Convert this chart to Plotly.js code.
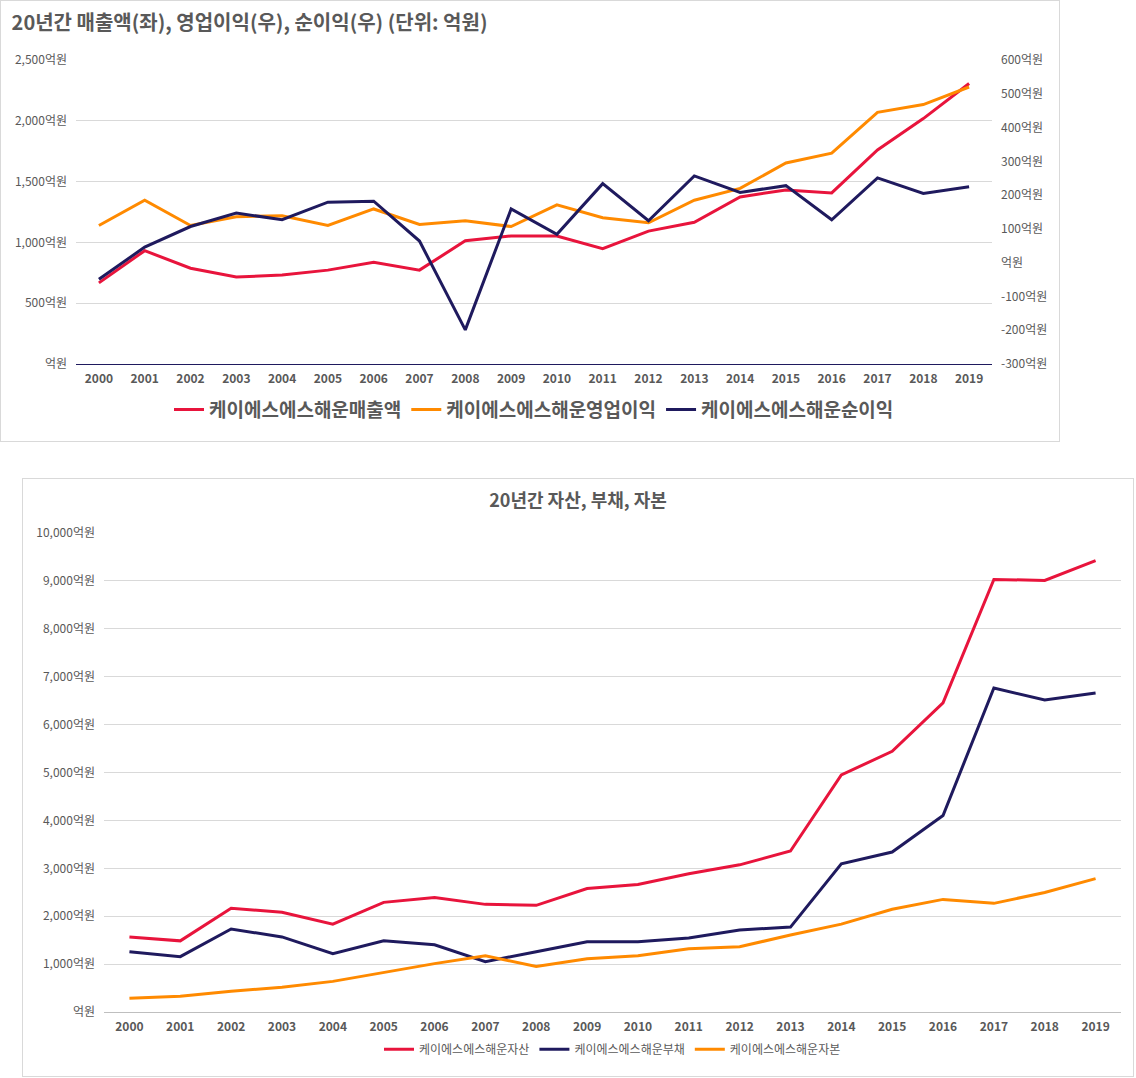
<html><head><meta charset="utf-8">
<script src="https://cdn.plot.ly/plotly-3.0.1.min.js"></script>
<style>body{margin:0;background:#fff;font-family:'Noto Sans CJK KR',sans-serif}
#c1{position:absolute;left:0;top:0;width:1060px;height:442px;border:1px solid #d9d9d9;box-sizing:border-box}
#c2{position:absolute;left:22px;top:478px;width:1112px;height:599px;border:1px solid #d9d9d9;box-sizing:border-box}</style></head>
<body><div id="c1"></div><div id="c2"></div>
<script>
const years=['2000','2001','2002','2003','2004','2005','2006','2007','2008','2009','2010','2011','2012','2013','2014','2015','2016','2017','2018','2019'];
const revenue=[667,932,788,715,731,772,836,772,1013,1053,1053,948,1093,1165,1374,1431,1407,1760,2018,2307];
const opProfit=[110,185,110,136,139,110,159,113,124,107,171,133,118,185,220,295,324,445,468,520];
const netProfit=[-49,46,107,147,127,179,182,64,-199,159,84,234,124,257,208,228,127,251,205,225];
const assets=[1567,1485,2165,2082,1835,2289,2392,2247,2227,2577,2660,2887,3072,3361,4948,5443,6454,9031,9010,9423];
const liabilities=[1258,1155,1732,1567,1216,1485,1402,1052,1258,1464,1464,1546,1711,1773,3093,3340,4103,6763,6515,6660];
const capital=[289,330,433,515,639,825,1010,1175,948,1113,1175,1320,1361,1608,1835,2144,2351,2268,2495,2784];
const names1=['케이에스에스해운매출액','케이에스에스해운영업이익','케이에스에스해운순이익'];
const names2=['케이에스에스해운자산','케이에스에스해운부채','케이에스에스해운자본'];
const RED='#e8143c',ORG='#ff8a00',NAVY='#1f1a5e',F="'Noto Sans CJK KR', sans-serif";
const fmt=v=>(v===0?'':v.toLocaleString('en-US'))+'억원';
const lv=[0,500,1000,1500,2000,2500], rv=[-300,-200,-100,0,100,200,300,400,500,600];
const tf={family:F,size:12,color:'#595959'};
const xf={family:F,size:12,color:'#595959',weight:'bold'};
Plotly.newPlot('c1',[
{x:years,y:revenue,name:names1[0],type:'scatter',mode:'lines',line:{color:RED,width:3}},
{x:years,y:opProfit,name:names1[1],yaxis:'y2',type:'scatter',mode:'lines',line:{color:ORG,width:3}},
{x:years,y:netProfit,name:names1[2],yaxis:'y2',type:'scatter',mode:'lines',line:{color:NAVY,width:3}}
],{width:1058,height:440,margin:{l:75,r:67,t:59,b:69},paper_bgcolor:'#fff',plot_bgcolor:'#fff',
title:{text:'<b>20년간 매출액(좌), 영업이익(우), 순이익(우) (단위: 억원)</b>',x:0.01,xanchor:'left',y:0.965,yanchor:'top',font:{family:F,size:20,color:'#595959'}},
xaxis:{type:'category',range:[-0.5,19.5],tickfont:xf,ticklabelstandoff:6,showgrid:false,zeroline:false,showline:false},
yaxis:{range:[0,2500],tickvals:lv,ticktext:lv.map(fmt),tickfont:tf,ticklabelstandoff:8,gridcolor:'#d9d9d9',zeroline:true,zerolinecolor:'#1f1a5e',zerolinewidth:1},
yaxis2:{overlaying:'y',side:'right',range:[-300,600],tickvals:rv,ticktext:rv.map(fmt),tickfont:tf,ticklabelstandoff:8,showgrid:false,zeroline:false},
legend:{orientation:'h',x:0.5,xanchor:'center',y:-0.15,yanchor:'middle',font:{family:F,size:19,color:'#595959',weight:'bold'}},
showlegend:true},{displayModeBar:false});
const v2=[0,1000,2000,3000,4000,5000,6000,7000,8000,9000,10000];
Plotly.newPlot('c2',[
{x:years,y:assets,name:names2[0],type:'scatter',mode:'lines',line:{color:RED,width:3}},
{x:years,y:liabilities,name:names2[1],type:'scatter',mode:'lines',line:{color:NAVY,width:3}},
{x:years,y:capital,name:names2[2],type:'scatter',mode:'lines',line:{color:ORG,width:3}}
],{width:1110,height:597,margin:{l:81,r:12,t:54,b:58},paper_bgcolor:'#fff',plot_bgcolor:'#fff',
title:{text:'<b>20년간 자산, 부채, 자본</b>',x:0.5,xanchor:'center',y:0.975,yanchor:'top',font:{family:F,size:18,color:'#595959'}},
xaxis:{type:'category',range:[-0.5,19.5],tickfont:xf,ticklabelstandoff:6,showgrid:false,zeroline:false,showline:false},
yaxis:{range:[0,10000],tickvals:v2,ticktext:v2.map(fmt),tickfont:tf,ticklabelstandoff:8,gridcolor:'#d9d9d9',zeroline:true,zerolinecolor:'#bfbfbf'},
legend:{orientation:'h',x:0.5,xanchor:'center',y:-0.078,yanchor:'middle',font:{family:F,size:12,color:'#595959'}},
showlegend:true},{displayModeBar:false});
</script></body></html>
